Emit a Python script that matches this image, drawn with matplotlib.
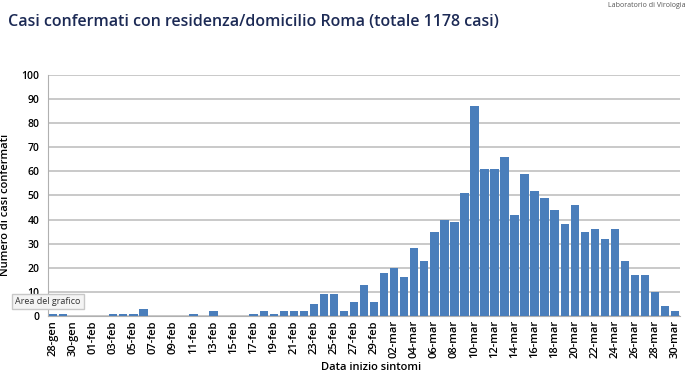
import matplotlib.pyplot as plt
import numpy as np

# Daily confirmed cases by symptom onset date, 28-gen .. 30-mar
jan_days = ["28-gen", "29-gen", "30-gen", "31-gen"]
feb_days = ["%02d-feb" % d for d in range(1, 30)]
mar_days = ["%02d-mar" % d for d in range(1, 31)]
dates = jan_days + feb_days + mar_days

jan_cases = [1, 1, 0, 0]
feb_cases = [0, 0, 1, 1, 1, 3, 0, 0, 0, 0,
             1, 0, 2, 0, 0, 0, 1, 2, 1, 2,
             2, 2, 5, 9, 9, 2, 6, 13, 6]
mar_cases = [18, 20, 16, 28, 23, 35, 40, 39, 51, 87,
             61, 61, 66, 42, 59, 52, 49, 44, 38, 46,
             35, 36, 32, 36, 23, 17, 17, 10, 4, 2]
cases = jan_cases + feb_cases + mar_cases

plt.rcParams['font.family'] = ['Open Sans', 'DejaVu Sans']

fig = plt.figure(figsize=(7, 3.74), dpi=100)
ax = fig.add_axes([0.0686, 0.155, 0.903, 0.645])

x = np.arange(len(dates))
ax.bar(x, cases, width=0.84, color="#4a7ebb", zorder=3)

ax.set_xlim(-0.5, len(dates) - 0.5)
ax.set_ylim(0, 100)
ax.set_yticks(range(0, 101, 10))
ax.yaxis.grid(True, color="#c0c0c0", linewidth=1.2, zorder=0)
ax.set_xticks(x[::2])
ax.set_xticklabels(dates[::2], rotation=90, fontsize=8, fontweight="semibold")
ax.tick_params(axis="y", labelsize=7.5, length=0, pad=6)
ax.tick_params(axis="x", length=0, pad=3)
for lab in ax.get_yticklabels():
    lab.set_fontweight("semibold")

for side in ["top", "right"]:
    ax.spines[side].set_visible(False)
ax.spines["left"].set_color("#b0b0b0")
ax.spines["bottom"].set_color("#b0b0b0")

ax.set_ylabel("Numero di casi confermati", fontsize=8, fontweight="semibold", labelpad=9)
ax.yaxis.set_label_coords(-0.058, 0.46)
fig.text(0.53, 0.003, "Data inizio sintomi", fontsize=8, fontweight="semibold",
         ha="center", va="bottom")

fig.text(0.012, 0.94, "Casi confermati con residenza/domicilio Roma (totale 1178 casi)",
         fontsize=11.5, fontweight="semibold", color="#1c2a55", ha="left", va="center")
fig.text(0.98, 0.995, "Laboratorio di Virologia", fontsize=5, color="#555555",
         ha="right", va="top")

fig.text(0.022, 0.193, "Area del grafico", fontsize=6.5, color="#333333",
         ha="left", va="center", zorder=10,
         bbox=dict(boxstyle="square,pad=0.35", facecolor="#f4f4f4", edgecolor="#c8c8c8"))

fig.savefig("out.png", dpi=100)
